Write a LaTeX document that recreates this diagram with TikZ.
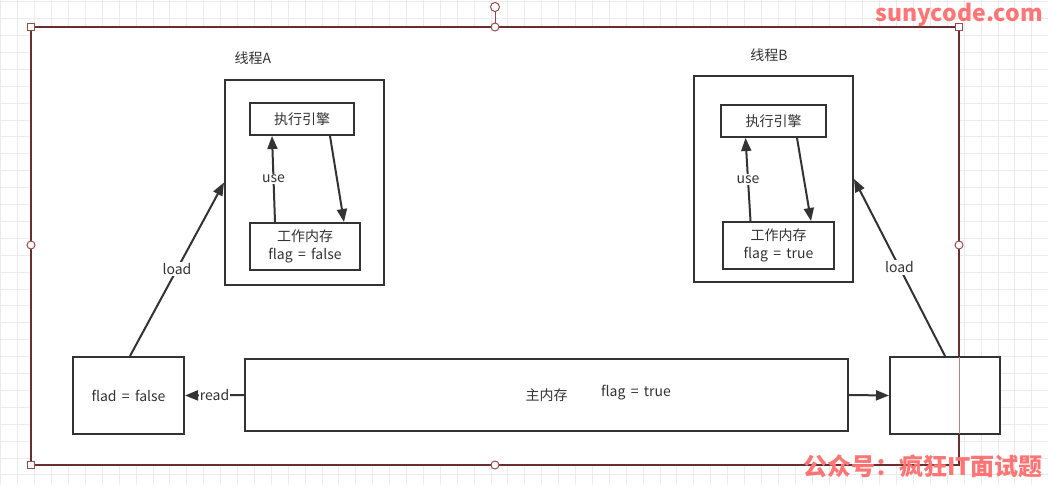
\documentclass[tikz,border=0pt]{standalone}
\usepackage{fontspec}
\setmainfont{Noto Sans CJK SC}[WordSpace=1.7]
\usepackage{xcolor}
\usetikzlibrary{arrows.meta}
\definecolor{ink}{HTML}{333333}
\definecolor{selframe}{HTML}{6B2E2E}
\definecolor{handle}{HTML}{9A4A4A}
\definecolor{gridline}{HTML}{EBEBEB}
\definecolor{stamp}{HTML}{FF7474}

\begin{document}
\begin{tikzpicture}[x=1pt,y=-1pt]
		\tikzstyle{box} = [draw=ink, line width=2pt, fill=white, inner sep=0pt, text=ink, align=center, font=\fontsize{14}{18}\selectfont]
		\tikzstyle{message} = [draw=ink, line width=2pt, -{Triangle[length=13pt,width=10pt]}]
		\tikzstyle{tag} = [fill=white, inner sep=1.5pt, text=ink, font=\fontsize{14}{17}\selectfont]
		\tikzstyle{square} = [draw=handle, fill=white, line width=1pt, minimum size=7pt, inner sep=0pt]
		\tikzstyle{knob} = [draw=handle, fill=white, line width=1pt, circle, minimum size=8pt, inner sep=0pt]
		\tikzstyle{stampfont} = [text=stamp, inner sep=0pt, font=\bfseries\fontsize{23}{26}\selectfont]

		\useasboundingbox (0,0) rectangle (1048,485);

		% background grid of the editor
		\foreach \gx in {0,...,62} \draw[gridline, line width=0.8pt] (\gx*16.9+0.8,0) -- (\gx*16.9+0.8,485);
		\foreach \gy in {0,...,28} \draw[gridline, line width=0.8pt] (0,\gy*16.9+1.6) -- (1048,\gy*16.9+1.6);
		\fill[white] (31,27) rectangle (959,465);
		\draw[selframe, line width=2pt] (31,27) rectangle (959,465);

		% thread A
		\node[box, minimum width=159pt, minimum height=205pt] (ThreadA) at (304.5,182.5) {};
		\node[box, minimum width=104pt, minimum height=32pt] (EngineA) at (302,119) {执行引擎};
		\node[box, minimum width=110pt, minimum height=47pt] (WorkA) at (305,246.5) {工作内存\\flag = false};
		\node[tag] (ThreadALabel) at (253,58) {线程A};

		% thread B
		\node[box, minimum width=159pt, minimum height=206pt] (ThreadB) at (773.5,179) {};
		\node[box, minimum width=105pt, minimum height=32pt] (EngineB) at (773.5,121) {执行引擎};
		\node[box, minimum width=111pt, minimum height=47pt] (WorkB) at (778.5,245.5) {工作内存\\flag = true};
		\node[tag] (ThreadBLabel) at (769,55) {线程B};

		% main memory and copies
		\node[box, minimum width=111pt, minimum height=77pt] (FlagBox) at (128.5,395.5) {flad = false};
		\node[box, minimum width=603pt, minimum height=72pt] (MainMem) at (546.5,395) {主内存};
		\node[tag] (MainFlag) at (636,393) {flag = true};
		\node[box, minimum width=110pt, minimum height=77pt] (CopyBox) at (945,395.5) {};
		\draw[handle!70, line width=0.6pt] (959,357) -- (959,434);

		\draw[message] ([xshift=-30pt]WorkA.north) -- ([xshift=-30pt]EngineA.south) node[midway, tag] (UseA) {use};
		\draw[message] ([xshift=28pt]EngineA.south) -- ([xshift=39pt]WorkA.north);
		\draw[message] ([xshift=-28pt]WorkB.north) -- ([xshift=-28pt]EngineB.south) node[midway, tag] (UseB) {use};
		\draw[message] ([xshift=23.5pt]EngineB.south) -- ([xshift=32.5pt]WorkB.north);
		\draw[message] ([xshift=1.5pt]FlagBox.north) -- (ThreadA.west) node[midway, tag] (LoadA) {load};
		\draw[message] (CopyBox.north) -- (ThreadB.east) node[midway, tag] (LoadB) {load};
		\draw[message] (MainMem.west) -- (FlagBox.east) node[midway, tag, inner sep=0.5pt] (ReadA) {read};
		\draw[message] (MainMem.east) -- (CopyBox.west);

		% selection handles
		\draw[handle, line width=1pt] (495,11) -- (495,27);
		\node[knob, minimum size=9pt] (Rotate) at (495,7) {};
		\node[square] (CornerNW) at (31,27) {};
		\node[square] (CornerNE) at (959,27) {};
		\node[square] (CornerSW) at (31,465) {};
		\node[knob] (EdgeN) at (495,27) {};
		\node[knob] (EdgeW) at (31,245) {};
		\node[knob] (EdgeE) at (959,245) {};
		\node[knob] (EdgeS) at (495,465) {};

		% watermarks
		\node[stampfont] (SiteMark) at (959,15) {sunycode.com};
		\node[stampfont, font=\bfseries\fontsize{24}{27}\selectfont] (WeChatMark) at (923,466) {公众号：疯狂IT面试题};

	\end{tikzpicture}
\end{document}
